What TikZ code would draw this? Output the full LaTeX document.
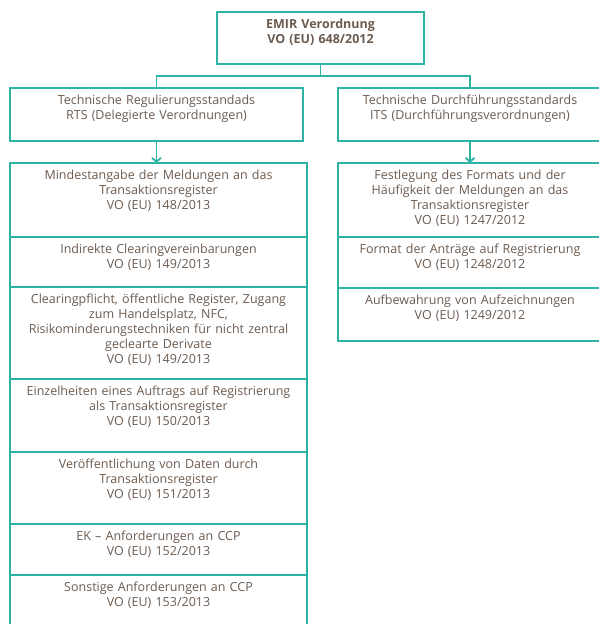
\documentclass[tikz,border=0pt]{standalone}
\usepackage{fontspec}
\setmainfont{Open Sans}
\usepackage{xcolor}
\usetikzlibrary{positioning,arrows.meta}
\definecolor{emirline}{HTML}{2DB3A3}
\definecolor{emirtext}{HTML}{6B5B50}

\begin{document}
\begin{tikzpicture}[x=1pt, y=1pt, font=\fontsize{12.5}{15}\selectfont, text=emirtext,
  box/.style={draw=emirline, line width=1.8pt, outer sep=0pt, inner xsep=2pt, inner ysep=0pt, align=center, text height=17pt},
  lbox/.style={box, text width=293pt},
  rbox/.style={box, text width=260pt},
  lnk/.style={draw=emirline, line width=1.8pt},
  arr/.style={lnk, -{Straight Barb[length=4pt,width=9pt]}}]
\useasboundingbox (0,0) rectangle (598,624);
\node[box, text width=203pt, text depth=35pt, font=\fontsize{12.5}{15}\selectfont\bfseries, anchor=north] (emir) at (320.5,612) {EMIR Verordnung\\VO (EU) 648/2012};
\node[box, text width=289pt, text depth=36pt, anchor=north] (rts) at (156.5,536) {Technische Regulierungsstandads\\RTS (Delegierte Verordnungen)};
\node[rbox, text depth=36pt, anchor=north] (its) at (470,536) {Technische Durchführungsstandards\\ITS (Durchführungsverordnungen)};
% RTS
\node[lbox, text depth=57pt, anchor=north] (rts1) at (158.5,461) {Mindestangabe der Meldungen an das\\Transaktionsregister\\VO (EU) 148/2013};
\node[lbox, text depth=33pt, below=0pt of rts1] (rts2) {Indirekte Clearingvereinbarungen\\VO (EU) 149/2013};
\node[lbox, text depth=75pt, below=0pt of rts2] (rts3) {Clearingpflicht, öffentliche Register, Zugang\\zum Handelsplatz, NFC,\\Risikominderungstechniken für nicht zentral\\geclearte Derivate\\VO (EU) 149/2013};
\node[lbox, text depth=56pt, below=0pt of rts3] (rts4) {Einzelheiten eines Auftrags auf Registrierung\\als Transaktionsregister\\VO (EU) 150/2013};
\node[lbox, text depth=55pt, below=0pt of rts4] (rts5) {Veröffentlichung von Daten durch\\Transaktionsregister\\VO (EU) 151/2013};
\node[lbox, text depth=34pt, below=0pt of rts5] (rts6) {EK – Anforderungen an CCP\\VO (EU) 152/2013};
\node[lbox, text depth=38pt, below=0pt of rts6] (rts7) {Sonstige Anforderungen an CCP\\VO (EU) 153/2013};
% ITS
\node[rbox, text depth=57pt, anchor=north] (its1) at (470,461) {Festlegung des Formats und der\\Häufigkeit der Meldungen an das\\Transaktionsregister\\VO (EU) 1247/2012};
\node[rbox, text depth=34pt, below=0pt of its1] (its2) {Format der Anträge auf Registrierung\\VO (EU) 1248/2012};
\node[rbox, text depth=36pt, below=0pt of its2] (its3) {Aufbewahrung von Aufzeichnungen\\VO (EU) 1249/2012};
\draw[lnk] (emir.south) -- ++(0,-12) -| (rts.north);
\draw[lnk] (emir.south) -- ++(0,-12) -| (its.north);
\draw[arr] (rts.south) -- (rts.south |- rts1.north);
\draw[arr] (its.south) -- (its.south |- its1.north);
\end{tikzpicture}
\end{document}
